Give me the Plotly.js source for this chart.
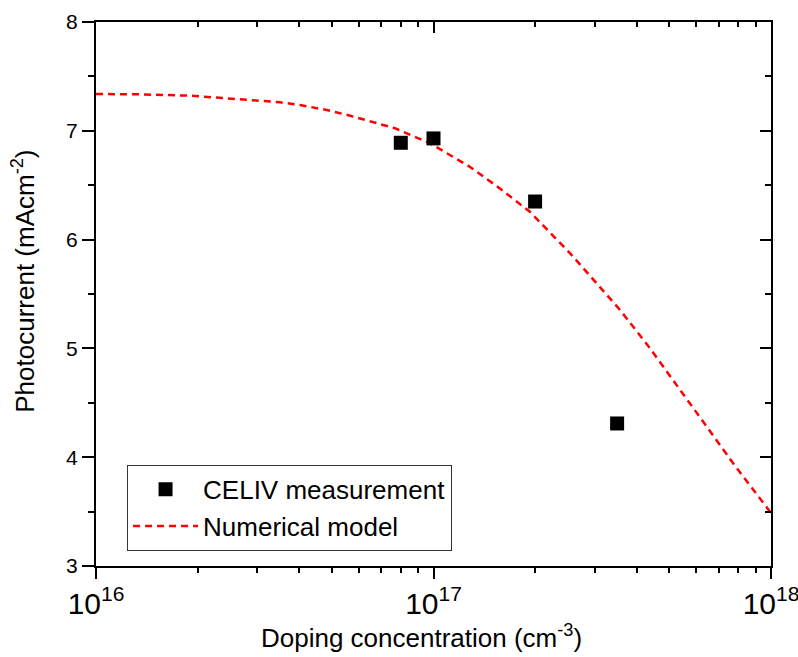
<!DOCTYPE html>
<html>
<head>
<meta charset="utf-8">
<script src="https://cdn.plot.ly/plotly-3.0.1.min.js"></script>
<style>html,body{margin:0;padding:0;background:#fff;}#chart{width:798px;height:657px;}</style>
</head>
<body>
<div id="chart"></div>
<script>
// Measured data (CELIV)
const measDoping = [8e16, 1e17, 2e17, 3.5e17];
const measPhotocurrent = [6.89, 6.93, 6.35, 4.31];

// Numerical model curve
const modelDoping = [1e16, 1.35e16, 1.9e16, 2.67e16, 3.51e16, 4.02e16, 4.83e16, 5.66e16, 6.58e16, 7.69e16, 9.77e16, 1.28e17, 1.57e17, 1.93e17, 2.54e17, 3.57e17, 4.38e17, 6.17e17, 7.82e17, 1e18];
const modelPhotocurrent = [7.338, 7.335, 7.323, 7.292, 7.262, 7.237, 7.191, 7.139, 7.084, 7.023, 6.885, 6.670, 6.472, 6.256, 5.874, 5.353, 5.001, 4.370, 3.922, 3.487];

const xTitle = 'Doping concentration (cm<sup>-3</sup>)';
const yTitle = 'Photocurrent (mAcm<sup>-2</sup>)';
const measName = 'CELIV measurement';
const modelName = 'Numerical model';

const font = {family: 'Liberation Sans, Arial, sans-serif', color: '#000'};

const traces = [
  {
    x: modelDoping, y: modelPhotocurrent, name: modelName, type: 'scatter', mode: 'lines',
    line: {color: '#ff0000', width: 2.5, dash: '7px,5px'}
  },
  {
    x: measDoping, y: measPhotocurrent, name: measName, type: 'scatter', mode: 'markers',
    marker: {symbol: 'square', size: 14, color: '#000'}
  },
  {
    x: measDoping, y: measPhotocurrent, xaxis: 'x2', yaxis: 'y2', type: 'scatter', mode: 'markers',
    marker: {opacity: 0}, showlegend: false, hoverinfo: 'skip'
  }
];

const layout = {
  width: 798, height: 657,
  margin: {l: 96, r: 27, t: 22, b: 91},
  paper_bgcolor: '#fff', plot_bgcolor: '#fff',
  font: Object.assign({size: 20}, font),
  showlegend: true,
  legend: {
    x: 0.046, y: 0.186, xanchor: 'left', yanchor: 'top',
    bordercolor: '#333', borderwidth: 1, bgcolor: '#fff',
    font: Object.assign({size: 26}, font),
    traceorder: 'reversed',
    itemwidth: 65
  },
  xaxis: {
    type: 'log', range: [16, 18], dtick: 1, exponentformat: 'power',
    showline: true, linecolor: '#000', linewidth: 2, mirror: true,
    ticks: 'outside', ticklen: 11, tickwidth: 2, tickcolor: '#000',
    minor: {ticks: 'outside', ticklen: 5, tickwidth: 2, tickcolor: '#000', dtick: 'D1'},
    showgrid: false, zeroline: false,
    ticklabeloverflow: 'allow',
    tickfont: Object.assign({size: 24}, font),
    title: {text: ''}
  },
  yaxis: {
    range: [3, 8], dtick: 1,
    showline: true, linecolor: '#000', linewidth: 2, mirror: true,
    ticks: 'outside', ticklen: 12, tickwidth: 2, tickcolor: '#000',
    minor: {ticks: 'outside', ticklen: 6, tickwidth: 2, tickcolor: '#000', dtick: 0.5},
    showgrid: false, zeroline: false,
    tickfont: Object.assign({size: 21}, font),
    title: {text: ''}
  },
  xaxis2: {
    type: 'log', range: [16, 18], dtick: 1, overlaying: 'x', side: 'top',
    showticklabels: false, showline: false,
    ticks: 'inside', ticklen: 11, tickwidth: 2, tickcolor: '#000',
    minor: {ticks: 'inside', ticklen: 5, tickwidth: 2, tickcolor: '#000', dtick: 'D1'},
    showgrid: false, zeroline: false
  },
  yaxis2: {
    range: [3, 8], dtick: 1, overlaying: 'y', side: 'right',
    showticklabels: false, showline: false,
    ticks: 'inside', ticklen: 11, tickwidth: 2, tickcolor: '#000',
    minor: {ticks: 'inside', ticklen: 6, tickwidth: 2, tickcolor: '#000', dtick: 0.5},
    showgrid: false, zeroline: false
  },
  annotations: [
    {text: xTitle, xref: 'paper', yref: 'paper', x: 0.482, y: -0.13, xanchor: 'center', yanchor: 'middle',
     showarrow: false, font: Object.assign({size: 26}, font)},
    {text: yTitle, xref: 'paper', yref: 'paper', x: -0.107, y: 0.524, xanchor: 'center', yanchor: 'middle',
     textangle: -90, showarrow: false, font: Object.assign({size: 26}, font)}
  ]
};

Plotly.newPlot('chart', traces, layout, {displayModeBar: false, staticPlot: true});
</script>
</body>
</html>
